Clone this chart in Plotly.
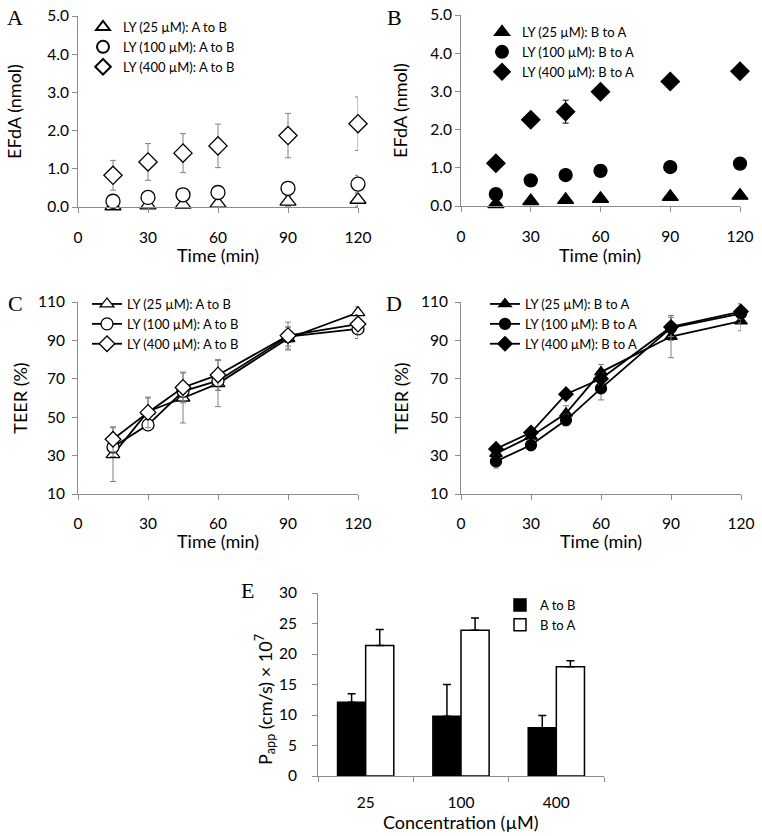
import plotly.graph_objects as go

W, H = 762, 836

# ---------------- data ----------------
time = [15, 30, 45, 60, 90, 120]

# Panel A: EFdA (nmol), A to B
a25 = [0.02, 0.04, 0.06, 0.09, 0.14, 0.19]
a25_err = [0.05, 0.05, 0.05, 0.08, 0.12, 0.17]
a100 = [0.15, 0.25, 0.32, 0.38, 0.49, 0.60]
a100_err = [0.05, 0.06, 0.07, 0.08, 0.18, 0.23]
a400 = [0.83, 1.18, 1.41, 1.60, 1.87, 2.18]
a400_err = [0.39, 0.48, 0.51, 0.57, 0.58, 0.70]

# Panel B: EFdA (nmol), B to A
b25 = [0.05, 0.13, 0.16, 0.19, 0.24, 0.27]
b25_err = [0.02, 0.02, 0.02, 0.02, 0.02, 0.02]
b100 = [0.31, 0.67, 0.81, 0.92, 1.02, 1.11]
b100_err = [0.03, 0.03, 0.03, 0.03, 0.03, 0.03]
b400 = [1.12, 2.26, 2.47, 2.99, 3.26, 3.53]
b400_err = [0.05, 0.05, 0.30, 0.05, 0.05, 0.05]

# Panel C: TEER (%), A to B
c25 = [30.5, 53, 60, 67.5, 91, 104.5]
c25_err = [14, 7, 13, 12, 6, 3]
c100 = [34.5, 46, 63.5, 69, 92, 96]
c100_err = [5, 3, 5, 5, 5, 5]
c400 = [38.5, 52.5, 65.5, 72, 92.5, 98.5]
c400_err = [6.5, 8, 8, 8, 7, 5]

# Panel D: TEER (%), B to A
d25 = [31, 40, 52, 73.5, 92, 100]
d25_err = [3, 3, 4, 4, 11, 5]
d100 = [27, 35.5, 48.5, 65, 96.5, 104]
d100_err = [3.5, 3, 3, 6, 6.5, 5]
d400 = [33.5, 42, 62, 70, 97, 105]
d400_err = [2, 2, 2, 3, 5, 4]

# Panel E: Papp
conc = ["25", "100", "400"]
e_ab = [12.1, 9.8, 7.9]
e_ab_err = [1.4, 5.2, 2.0]
e_ba = [21.4, 23.9, 17.9]
e_ba_err = [2.6, 2.0, 1.0]

time_ticks = [0, 30, 60, 90, 120]
efda_ticks = [0, 1, 2, 3, 4, 5]
teer_ticks = [10, 30, 50, 70, 90, 110]
papp_ticks = [0, 5, 10, 15, 20, 25, 30]

# ---------------- helpers ----------------
FONT = "Lato"
AX = "#8c8c8c"


def px(x):
    return x / W


def py(y):
    return 1 - y / H


def xd(a, b):
    return [px(a), px(b)]


def yd(top, bottom):
    return [py(bottom), py(top)]


fig = go.Figure()


def scatter(x, y, err, name, symbol, fill, size, xa, ya, legend, lines=False, ecolor="#808080"):
    fig.add_trace(go.Scatter(
        x=x, y=y, name=name,
        mode="lines+markers" if lines else "markers",
        line=dict(color="black", width=1.8),
        marker=dict(symbol=symbol, size=size, color=fill,
                    line=dict(color="black", width=1.3)),
        error_y=dict(type="data", array=err, color=ecolor, thickness=1, width=3),
        xaxis=xa, yaxis=ya, legend=legend, cliponaxis=False,
    ))


# Panel A
scatter(time, a25, a25_err, "LY (25 µM): A to B", "triangle-up", "white", 14, "x", "y", "legend")
scatter(time, a100, a100_err, "LY (100 µM): A to B", "circle", "white", 14, "x", "y", "legend")
scatter(time, a400, a400_err, "LY (400 µM): A to B", "diamond", "white", 14, "x", "y", "legend")
# Panel B
scatter(time, b25, b25_err, "LY (25 µM): B to A", "triangle-up", "black", 14, "x2", "y2", "legend2", ecolor="black")
scatter(time, b100, b100_err, "LY (100 µM): B to A", "circle", "black", 13, "x2", "y2", "legend2", ecolor="black")
scatter(time, b400, b400_err, "LY (400 µM): B to A", "diamond", "black", 14, "x2", "y2", "legend2", ecolor="black")
# Panel C
scatter(time, c25, c25_err, "LY (25 µM): A to B", "triangle-up", "white", 12, "x3", "y3", "legend3", lines=True)
scatter(time, c100, c100_err, "LY (100 µM): A to B", "circle", "white", 12, "x3", "y3", "legend3", lines=True)
scatter(time, c400, c400_err, "LY (400 µM): A to B", "diamond", "white", 12, "x3", "y3", "legend3", lines=True)
# Panel D
scatter(time, d25, d25_err, "LY (25 µM): B to A", "triangle-up", "black", 11, "x4", "y4", "legend4", lines=True)
scatter(time, d100, d100_err, "LY (100 µM): B to A", "circle", "black", 11, "x4", "y4", "legend4", lines=True)
scatter(time, d400, d400_err, "LY (400 µM): B to A", "diamond", "black", 11, "x4", "y4", "legend4", lines=True)

# Panel E
fig.add_trace(go.Bar(
    x=conc, y=e_ab, name="A to B", marker=dict(color="black", line=dict(color="black", width=1.5)),
    error_y=dict(type="data", array=e_ab_err, arrayminus=[0, 0, 0], symmetric=False,
                 color="black", thickness=1.5, width=4),
    xaxis="x5", yaxis="y5", legend="legend5",
))
fig.add_trace(go.Bar(
    x=conc, y=e_ba, name="B to A", marker=dict(color="white", line=dict(color="black", width=1.5)),
    error_y=dict(type="data", array=e_ba_err, arrayminus=[0, 0, 0], symmetric=False,
                 color="black", thickness=1.5, width=4),
    xaxis="x5", yaxis="y5", legend="legend5",
))

common = dict(showline=True, linecolor=AX, linewidth=1, ticks="outside", tickcolor=AX,
              ticklen=5, showgrid=False, zeroline=False, automargin=False,
              tickfont=dict(family=FONT, size=15.5, color="black"),
              title_font=dict(family=FONT, size=18, color="black"))


def time_axis(dom, anchor, standoff):
    return dict(common, domain=dom, anchor=anchor, range=[0, 120], tickvals=time_ticks,
                ticklabelstandoff=standoff)


fig.update_layout(
    width=W, height=H, margin=dict(l=0, r=0, t=0, b=0, autoexpand=False),
    paper_bgcolor="white", plot_bgcolor="white",
    font=dict(family=FONT, color="black"),
    barmode="group", bargap=0.41, bargroupgap=0,
    xaxis=time_axis(xd(78, 358), "y", 11),
    yaxis=dict(common, domain=yd(16, 207), anchor="x", range=[0, 5], tickvals=efda_ticks,
               tickformat=".1f", title=dict(text="EFdA (nmol)", standoff=20)),
    xaxis2=time_axis(xd(461, 740), "y2", 11),
    yaxis2=dict(common, domain=yd(15, 206), anchor="x2", range=[0, 5], tickvals=efda_ticks,
                tickformat=".1f", title=dict(text="EFdA (nmol)", standoff=17)),
    xaxis3=time_axis(xd(78, 358), "y3", 10),
    yaxis3=dict(common, domain=yd(302, 494), anchor="x3", range=[10, 110], tickvals=teer_ticks,
                ticklabelstandoff=4, title=dict(text="TEER (%)", standoff=5)),
    xaxis4=time_axis(xd(461, 741), "y4", 10),
    yaxis4=dict(common, domain=yd(302, 494), anchor="x4", range=[10, 110], tickvals=teer_ticks,
                ticklabelstandoff=4, title=dict(text="TEER (%)", standoff=7)),
    xaxis5=dict(common, domain=xd(318, 604), anchor="y5", tickson="boundaries",
                ticklabelstandoff=12),
    yaxis5=dict(common, domain=yd(593, 776), anchor="x5", range=[0, 30], tickvals=papp_ticks,
                ticklabelstandoff=12),
)

leg = dict(bgcolor="rgba(0,0,0,0)", borderwidth=0, font=dict(family=FONT, size=13, color="black"),
           xanchor="left", yanchor="top", tracegroupgap=0, itemclick=False)
fig.update_layout(
    legend=dict(leg, x=px(83), y=py(12), itemsizing="constant"),
    legend2=dict(leg, x=px(482), y=py(17), itemsizing="constant"),
    legend3=dict(leg, x=px(87), y=py(289)),
    legend4=dict(leg, x=px(485), y=py(289)),
    legend5=dict(leg, x=px(500), y=py(590)),
)


def note(text, x, y, angle=0, size=18, family=FONT):
    fig.add_annotation(text=text, x=px(x), y=py(y), xref="paper", yref="paper",
                       xanchor="center", yanchor="middle", showarrow=False, textangle=angle,
                       font=dict(family=family, size=size, color="black"))


# axis titles placed like the reference (tight under the tick labels)
note("Time (min)", 218, 255)
note("Time (min)", 600, 255)
note("Time (min)", 218, 541)
note("Time (min)", 601, 541)
note("Concentration (µM)", 461, 822)
note("P<sub>app</sub> (cm/s) × 10<sup>7</sup>", 265, 700, angle=-90)

for txt, x, y in [("A", 15, 17), ("B", 394, 17), ("C", 15, 303), ("D", 394, 303), ("E", 247, 590)]:
    note(txt, x, y, size=22, family="Liberation Serif")

fig.write_html("out.html", config={"displayModeBar": False},
               post_script="document.body.style.margin='0';")
